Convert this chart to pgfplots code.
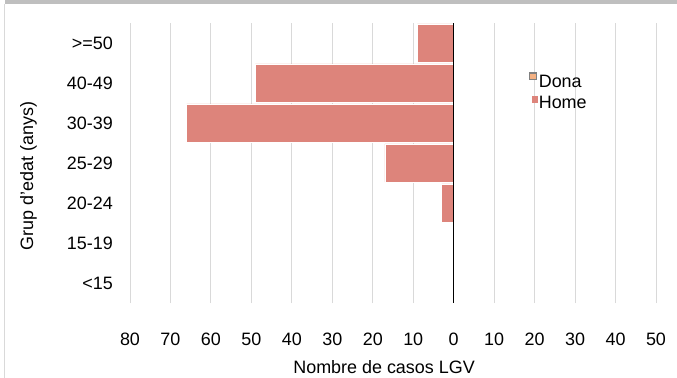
\documentclass[border=0pt]{standalone}
\usepackage{fontspec}
\setmainfont{Liberation Sans}
\usepackage{pgfplots}
\pgfplotsset{compat=1.18}
\definecolor{homefill}{HTML}{DD847B}
\definecolor{donafill}{HTML}{F4B183}
\definecolor{gridgray}{HTML}{D9D9D9}
\definecolor{framegray}{HTML}{BFBFBF}
\newcommand{\chartfont}{\fontsize{18}{21.6}\selectfont}
\begin{document}
\chartfont
\begin{tikzpicture}
\useasboundingbox (0,0) rectangle (677bp,378bp);
% chart frame remnants (top bar, left edge)
\fill[framegray] (4.5bp,374.2bp) rectangle (677bp,378bp);
\draw[gridgray, line width=1bp] (4.5bp,0) -- (4.5bp,374.2bp);
\begin{axis}[
  at={(130bp,75bp)}, anchor=south west,
  scale only axis, width=526bp, height=280bp,
  xmin=-80, xmax=50, ymin=-0.5, ymax=6.5,
  xtick={-80,-70,...,50},
  xticklabels={80,70,60,50,40,30,20,10,0,10,20,30,40,50},
  ytick={0,1,2,3,4,5,6},
  yticklabels={<15,15-19,20-24,25-29,30-39,40-49,>=50},
  xmajorgrids, ymajorgrids=false,
  grid style={gridgray, line width=1bp},
  axis line style={draw=none},
  tick style={draw=none}, major tick length=0,
  tick label style={font=\chartfont},
  xticklabel style={anchor=north, inner sep=0pt, yshift=-30bp},
  yticklabel style={anchor=east, inner sep=0pt, xshift=-17bp},
  xlabel={Nombre de casos LGV},
  xlabel style={font=\chartfont, at={(axis description cs:0.483,-0.251)}, anchor=base},
  ylabel={Grup d'edat (anys)},
  ylabel style={font=\chartfont, at={(axis description cs:-0.1844,0.454)}, anchor=base},
  xbar, bar width=0.96, bar shift=0,
  legend cell align=left,
  legend style={at={(axis description cs:0.7586,0.824)}, anchor=north west,
    draw=none, fill=none, inner sep=0pt, outer sep=0pt, row sep=1.6bp,
    font=\chartfont,
    nodes={inner sep=1bp, text height=13bp, text depth=4bp}},
]
% Dona: no cases in any group
\addplot[xbar, bar shift=0, fill=donafill, draw=none,
  legend image code/.code={
    \draw[draw=gray, fill=donafill, line width=1.3bp] (0.65bp,3.3bp) rectangle (7.35bp,10bp);
  }] coordinates {(0,0) (0,1) (0,2) (0,3) (0,4) (0,5) (0,6)};
\addlegendentry{Dona}
% Home: plotted to the left (negative)
\addplot[xbar, bar shift=0, fill=homefill, draw=white, line width=0.6bp,
  legend image code/.code={
    \fill[homefill] (3.7bp,1.5bp) rectangle (8.5bp,7bp);
  }] coordinates {(0,0) (0,1) (-3,2) (-17,3) (-66,4) (-49,5) (-9,6)};
\addlegendentry{Home}
\draw[black, line width=1bp] (axis cs:0,-0.5) -- (axis cs:0,6.5);
\end{axis}
\end{tikzpicture}
\end{document}
